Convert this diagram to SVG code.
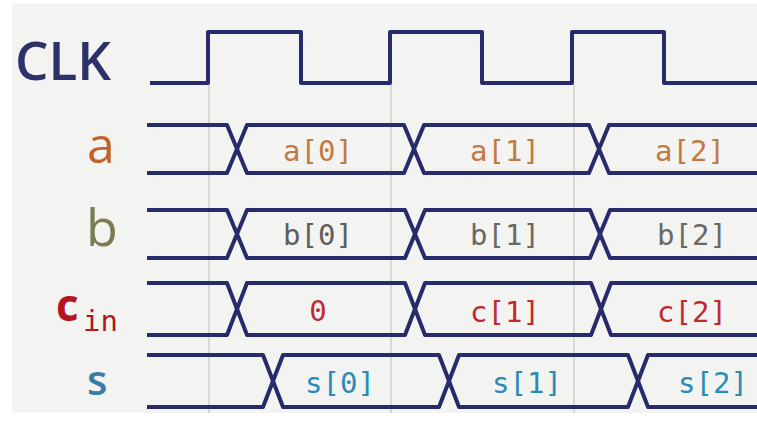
<svg xmlns="http://www.w3.org/2000/svg" width="757" height="426" viewBox="0 0 757 426">
  <style>
    .wave { fill: none; stroke: #272b6c; stroke-width: 4; stroke-linejoin: round; stroke-linecap: butt; }
    .grid { stroke: #cbc6bd; stroke-width: 1.2; }
    .lbl { font-family: "Open Sans", "Noto Sans", sans-serif; }
    .val { font-family: "DejaVu Sans Mono", "Liberation Mono", monospace; font-size: 29px; text-anchor: middle; }
  </style>
  <rect x="0" y="0" width="757" height="426" fill="#ffffff"/>
  <rect x="12" y="3" width="745" height="410" fill="#f3f3f1"/>

  <g id="gridlines">
    <line class="grid" x1="209" y1="84" x2="209" y2="413"/>
    <line class="grid" x1="391" y1="84" x2="391" y2="413"/>
    <line class="grid" x1="574" y1="84" x2="574" y2="413"/>
  </g>

  <g id="clk">
    <text class="lbl" x="15" y="80" font-size="53" font-weight="600" fill="#2c3168" textLength="96" lengthAdjust="spacingAndGlyphs">CLK</text>
    <path class="wave" d="M150,83 H208 V32 H301 V83 H390 V32 H482 V83 H572 V32 H664 V83 H757"/>
  </g>

  <g id="sig-a">
    <text class="lbl" x="87" y="163" font-size="50" fill="#c0622a">a</text>
    <path class="wave" d="M147,125 H227 L247,173 H404 L424,125 H589 L609,173 H757"/>
    <path class="wave" d="M147,173 H227 L247,125 H404 L424,173 H589 L609,125 H757"/>
    <text class="val" x="318" y="161" fill="#c27a45">a[0]</text>
    <text class="val" x="505" y="161" fill="#c27a45">a[1]</text>
    <text class="val" x="690" y="161" fill="#c27a45">a[2]</text>
  </g>

  <g id="sig-b">
    <text class="lbl" x="86" y="246" font-size="52" fill="#7c7b52">b</text>
    <path class="wave" d="M147,210 H227 L247,258 H405 L425,210 H590 L610,258 H757"/>
    <path class="wave" d="M147,258 H227 L247,210 H405 L425,258 H590 L610,210 H757"/>
    <text class="val" x="318" y="245" fill="#5e5e58">b[0]</text>
    <text class="val" x="505" y="245" fill="#6a6a64">b[1]</text>
    <text class="val" x="692" y="245" fill="#6a6a64">b[2]</text>
  </g>

  <g id="sig-cin">
    <text class="lbl" x="56" y="321" font-size="44" font-weight="bold" fill="#b3161f">c</text>
    <text x="83" y="331" font-family="DejaVu Sans Mono, Liberation Mono, monospace" font-size="29" fill="#b3161f">in</text>
    <path class="wave" d="M147,283 H227 L247,335 H405 L425,283 H591 L611,335 H757"/>
    <path class="wave" d="M147,335 H227 L247,283 H405 L425,335 H591 L611,283 H757"/>
    <text class="val" x="318" y="321" fill="#c0292f">0</text>
    <text class="val" x="505" y="322" fill="#c0292f">c[1]</text>
    <text class="val" x="692" y="322" fill="#c0292f">c[2]</text>
  </g>

  <g id="sig-s">
    <text class="lbl" x="87" y="395" font-size="42" font-weight="600" fill="#3a7ca6">s</text>
    <path class="wave" d="M147,355 H263 L283,407 H439 L459,355 H628 L648,407 H757"/>
    <path class="wave" d="M147,407 H263 L283,355 H439 L459,407 H628 L648,355 H757"/>
    <text class="val" x="340" y="393" fill="#2a8bb5">s[0]</text>
    <text class="val" x="527" y="393" fill="#2a8bb5">s[1]</text>
    <text class="val" x="713" y="393" fill="#2a8bb5">s[2]</text>
  </g>

  <g id="connectors"></g>
</svg>
